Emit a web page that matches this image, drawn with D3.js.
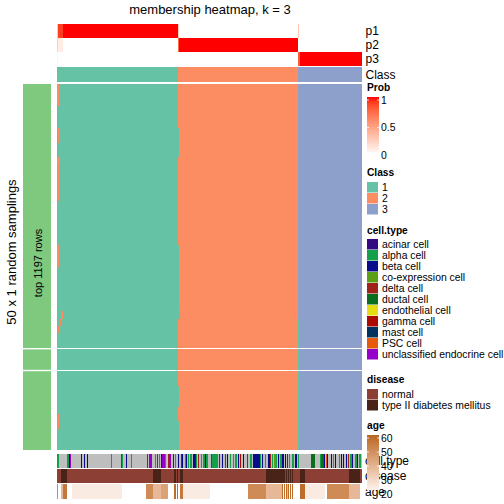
<!DOCTYPE html>
<html><head><meta charset="utf-8">
<script src="https://cdn.jsdelivr.net/npm/d3@7"></script>
<style>body{margin:0;background:#fff}svg{display:block}text{font-family:"Liberation Sans",Arial,Helvetica,sans-serif;fill:#000}</style>
</head><body><svg id="c" width="504" height="504"></svg>
<script>
// ---------------- data ----------------
const classRuns = [[121,1],[120,2],[64,3]];
const p1Runs = [[1,0.3],[5,0.9],[115,1],[1,0.25],[119,0],[1,0.3],[63,0]];
const p2Runs = [[1,0.25],[5,0.1],[115,0],[1,0.75],[119,1],[64,0]];
const p3Runs = [[1,0.05],[240,0],[2,0.8],[62,1]];
const sliceRows = [36,3,11];
// [rowFrom,rowTo,colFrom,colTo,class]
const deviations = [
  [0,2,0,1,2],[3,9,0,0,3],[6,7,1,1,2],[10,10,0,2,2],[11,15,1,1,2],
  [6,9,121,121,1],[22,24,0,1,2],[22,30,121,121,1],[31,31,121,122,1],
  [31,31,4,5,2],[32,32,3,3,2],[33,33,1,1,2],[34,34,2,2,2],
  [41,43,121,121,1],[45,46,1,1,2],[46,49,121,121,1],[32,49,241,241,1]
];
const cellTypeNames = ["acinar cell","alpha cell","beta cell","co-expression cell","delta cell","ductal cell","endothelial cell","gamma cell","mast cell","PSC cell","unclassified endocrine cell"];
const cellTypeCodes = ["K","A","B","C","D","T","E","G","M","P","U"];
const cellTypeRuns = [[2,"A"],[8,"N"],[2,"A"],[1,"B"],[1,"U"],[10,"N"],[1,"B"],[2,"N"],[1,"B"],[2,"N"],[1,"B"],[23,"N"],[1,"A"],[9,"N"],[1,"D"],[1,"A"],[3,"N"],[1,"B"],[4,"N"],[1,"A"],[15,"N"],[1,"U"],[1,"N"],[3,"U"],[3,"N"],[1,"A"],[1,"N"],[1,"U"],[1,"N"],[1,"A"],[1,"N"],[1,"K"],[3,"U"],[1,"A"],[1,"N"],[1,"E"],[1,"D"],[2,"U"],[2,"N"],[1,"M"],[1,"N"],[1,"A"],[2,"N"],[1,"B"],[2,"N"],[1,"G"],[1,"B"],[2,"N"],[1,"A"],[1,"B"],[1,"N"],[1,"A"],[1,"N"],[2,"A"],[1,"N"],[2,"B"],[1,"M"],[1,"A"],[1,"N"],[1,"D"],[2,"N"],[1,"A"],[1,"N"],[2,"A"],[1,"B"],[2,"A"],
  [3,"N"],[1,"D"],[6,"A"],[1,"N"],[1,"G"],[2,"N"],[1,"B"],[2,"N"],[1,"D"],[1,"N"],[1,"B"],[2,"N"],[1,"A"],[2,"N"],[1,"A"],[1,"N"],[2,"A"],[1,"N"],[1,"B"],[1,"N"],[1,"G"],[2,"N"],[1,"B"],[3,"N"],[1,"D"],[2,"N"],[2,"A"],[1,"N"],[7,"B"],[1,"A"],[1,"N"],[1,"B"],[2,"N"],[1,"A"],[2,"N"],[2,"B"],[1,"D"],[1,"N"],[1,"A"],[1,"N"],[2,"C"],[1,"A"],[1,"N"],[1,"B"],[1,"N"],[2,"A"],[2,"B"],[1,"N"],[1,"B"],[1,"N"],[1,"G"],[1,"N"],[1,"A"],[2,"N"],[2,"A"],[1,"N"],[2,"B"],[1,"N"],[1,"A"],[12,"N"],[4,"T"],[5,"N"],[1,"A"],[3,"T"],[1,"B"],[1,"N"],[1,"P"],[1,"B"],[3,"N"],[1,"B"],[1,"N"],[1,"A"],[1,"N"],[1,"B"],[3,"N"],[1,"A"],[1,"N"],[1,"B"],[1,"N"],[1,"B"],[2,"N"],[1,"B"],[1,"N"],[1,"D"],[1,"N"],[2,"A"],[1,"B"],[2,"N"],[2,"A"],[1,"B"],[1,"N"],[2,"A"],[1,"N"]];
const diseaseNames = ["normal","type II diabetes mellitus"];
const diseaseRuns = [[4,"n"],[6,"t"],[86,"n"],[8,"t"],[13,"n"],[2,"t"],[1,"n"],[1,"t"],[2,"n"],[3,"t"],[83,"n"],[19,"t"],[1,"n"],[1,"t"],[1,"n"],[1,"t"],[1,"n"],[1,"t"],[1,"n"],[1,"t"],[7,"n"],[5,"t"],[44,"n"],[11,"t"],[2,"n"]];
const ageRuns = [[1,50],[3,20],[2,38],[4,55],[5,20],[50,25],[24,20],[7,50],[8,38],[7,44],[6,20],[2,58],[1,20],[1,58],[2,20],[3,55],[27,25],[38,20],[18,50],[16,38],[1,58],[1,20],[1,58],[1,20],[1,58],[1,38],[1,58],[1,20],[1,58],[1,20],[1,58],[1,20],[6,20],[5,58],[20,25],[2,20],[22,50],[11,38],[2,20]];
const probTicks = [0,0.5,1];
const ageTicks = [20,30,40,50,60];

// ---------------- styles ----------------
const classColors = {1:"#66C2A5",2:"#FC8D62",3:"#8DA0CB"};
const ctColors = {K:"#330A80",A:"#14A04A",B:"#0A0A8C",C:"#5AA014",D:"#A0231A",T:"#0A6E1E",E:"#E6DC14",G:"#AA0A00",M:"#00325F",P:"#E65A0A",U:"#9600C8",N:"#BEBEBE"};
const disColors = {n:"#8B3F35",t:"#4A2318"};
const probColor = d3.scaleLinear().domain([0,1]).range(["#ffffff","#ff0000"]).interpolate(d3.interpolateLab).clamp(true);
const ageColor = d3.scaleLinear().domain([20,60]).range(["#ffffff","#B8661E"]).interpolate(d3.interpolateLab).clamp(true);
const LFS = "10.4px";

const expand = runs => runs.flatMap(([n,v]) => Array(n).fill(v));
const cls = expand(classRuns), p1 = expand(p1Runs), p2 = expand(p2Runs), p3 = expand(p3Runs);
const ct = expand(cellTypeRuns), dis = expand(diseaseRuns), age = expand(ageRuns);
const N = cls.length;

const svg = d3.select("#c");
const x = d3.scaleBand().domain(d3.range(N)).range([57, 362]);
const bw = x.bandwidth();

function runsOf(arr){ const out=[]; let s=0; for(let i=1;i<=arr.length;i++){ if(i===arr.length||arr[i]!==arr[s]){ out.push([s,i-s,arr[s]]); s=i; } } return out; }
function drawRow(g, arr, y0, h, colorFn){
  g.selectAll(null).data(runsOf(arr)).join("rect")
    .attr("x", d=>x(d[0])).attr("width", d=>d[1]*bw+0.3)
    .attr("y", y0).attr("height", h).attr("fill", d=>colorFn(d[2]))
    .attr("shape-rendering","crispEdges");
}

// title
svg.append("text").attr("x",210).attr("y",14).attr("text-anchor","middle").style("font-size","13px").text("membership heatmap, k = 3");

// top annotations
const topG = svg.append("g");
drawRow(topG, p1, 24, 14, probColor);
drawRow(topG, p2, 38, 14, probColor);
drawRow(topG, p3, 52, 14, probColor);
drawRow(topG, cls, 67, 14.5, c=>classColors[c]);
[["p1",31],["p2",45],["p3",59],["Class",74.2]].forEach(([t,cy])=>{
  svg.append("text").attr("x",365.5).attr("y",cy+4.3).style("font-size","12px").text(t);
});

// main heatmap (slice pixel extents)
const sliceExtents = [[84,348],[349.4,369.8],[371.2,450]];
const hmG = svg.append("g");
let rowIdx = 0;
sliceRows.forEach((nr,s)=>{
  const [y0,y1] = sliceExtents[s];
  const y = d3.scaleBand().domain(d3.range(rowIdx,rowIdx+nr)).range([y0, y1]);
  svg.append("rect").attr("x",23).attr("y",y0).attr("width",28).attr("height",y1-y0).attr("fill","#7FC97F");
  y.domain().forEach(r=>{
    const arr = cls.slice();
    deviations.forEach(([r0,r1,c0,c1,k])=>{ if(r>=r0&&r<=r1) for(let c=c0;c<=c1;c++) arr[c]=k; });
    drawRow(hmG, arr, y(r), y.bandwidth()+0.3, c=>classColors[c]);
  });
  rowIdx += nr;
});

// left labels
svg.append("text").attr("transform","translate(38,263) rotate(-90)").attr("text-anchor","middle").attr("dy","0.35em").style("font-size","11px").text("top 1197 rows");
svg.append("text").attr("transform","translate(15.5,252) rotate(-90)").attr("text-anchor","middle").style("font-size","13px").text("50 x 1 random samplings");

// bottom annotations
const botG = svg.append("g");
drawRow(botG, ct, 454, 14.3, c=>ctColors[c]);
drawRow(botG, dis, 469, 14.3, c=>disColors[c]);
drawRow(botG, age, 484, 14.5, a=>ageColor(a));
[["cell.type",461],["disease",476],["age",491.5]].forEach(([t,cy])=>{
  svg.append("text").attr("x",365).attr("y",cy+4.3).style("font-size","12px").text(t);
});

// ---------------- legends ----------------
const lx = 367;
const defs = svg.append("defs");
function gradient(id, c0, c1){
  const g = defs.append("linearGradient").attr("id",id).attr("x1",0).attr("y1",1).attr("x2",0).attr("y2",0);
  d3.range(0,1.0001,0.1).forEach(t=>g.append("stop").attr("offset",t).attr("stop-color",d3.interpolateLab(c0,c1)(t)));
}
function title(t,y){ svg.append("text").attr("x",lx).attr("y",y).style("font-size","10.2px").style("font-weight","bold").text(t); }

// Prob
title("Prob", 90.7);
const py = d3.scaleLinear().domain([0,1]).range([155,100]);
gradient("gProb", probColor(py.invert(152)), probColor(1));
svg.append("rect").attr("x",lx).attr("y",97).attr("width",12).attr("height",55).attr("fill","url(#gProb)");
probTicks.forEach(v=>{
  if(v>0){
    svg.append("line").attr("x1",lx).attr("x2",lx+2).attr("y1",py(v)).attr("y2",py(v)).attr("stroke","#fff").attr("stroke-width",0.8);
    svg.append("line").attr("x1",lx+10).attr("x2",lx+12).attr("y1",py(v)).attr("y2",py(v)).attr("stroke","#fff").attr("stroke-width",0.8);
  }
  svg.append("text").attr("x",lx+14).attr("y",py(v)+3.6).style("font-size",LFS).text(v);
});

// Class
title("Class", 175.8);
[1,2,3].forEach((k,i)=>{
  svg.append("rect").attr("x",lx).attr("y",182+i*11).attr("width",11).attr("height",10.5).attr("fill",classColors[k]);
  svg.append("text").attr("x",lx+15).attr("y",187.2+i*11+3.6).style("font-size",LFS).text(k);
});

// cell.type
title("cell.type", 233.8);
cellTypeNames.forEach((nm,i)=>{
  svg.append("rect").attr("x",lx).attr("y",239+i*11).attr("width",11).attr("height",10.5).attr("fill",ctColors[cellTypeCodes[i]]);
  svg.append("text").attr("x",lx+15).attr("y",244.2+i*11+3.6).style("font-size",LFS).text(nm);
});

// disease
title("disease", 383);
diseaseNames.forEach((nm,i)=>{
  svg.append("rect").attr("x",lx).attr("y",389+i*11).attr("width",11).attr("height",10.5).attr("fill",disColors[i===0?"n":"t"]);
  svg.append("text").attr("x",lx+15).attr("y",394.2+i*11+3.6).style("font-size",LFS).text(nm);
});

// age
title("age", 428.5);
const ay = d3.scaleLinear().domain([20,60]).range([494,438]);
gradient("gAge", ageColor(ay.invert(490)), ageColor(60));
svg.append("rect").attr("x",lx).attr("y",435).attr("width",12).attr("height",55).attr("fill","url(#gAge)");
ageTicks.forEach(v=>{
  if(v>20){
    svg.append("line").attr("x1",lx).attr("x2",lx+2).attr("y1",ay(v)).attr("y2",ay(v)).attr("stroke","#fff").attr("stroke-width",0.8);
    svg.append("line").attr("x1",lx+10).attr("x2",lx+12).attr("y1",ay(v)).attr("y2",ay(v)).attr("stroke","#fff").attr("stroke-width",0.8);
  }
  svg.append("text").attr("x",lx+14).attr("y",ay(v)+3.6).style("font-size",LFS).text(v);
});
</script></body></html>
